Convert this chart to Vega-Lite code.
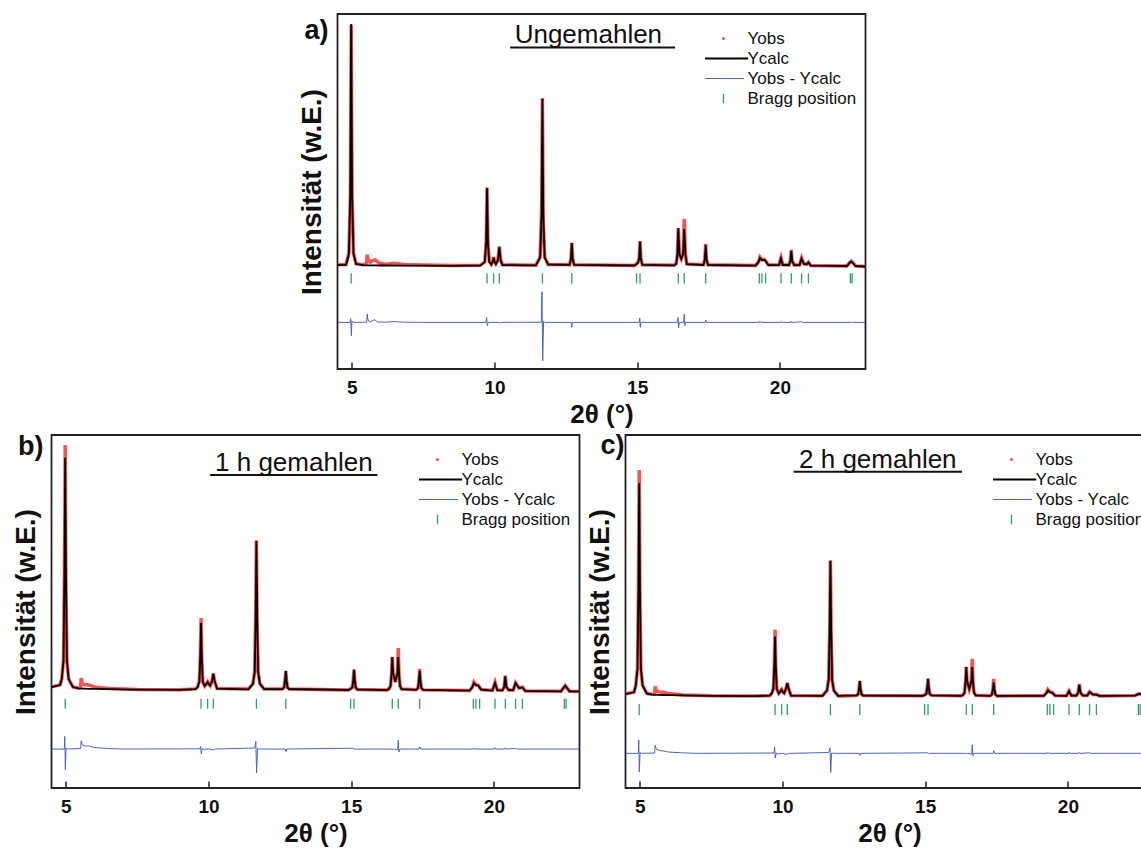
{
"$schema": "https://vega.github.io/schema/vega-lite/v6.json",
"padding": {"left": 11.5, "top": 13, "right": 0, "bottom": 0},
"background": "white",
"datasets": {
"one": [{"k": 1}],
"A": [
{"x":4.5,"c":1040,"o":1042},{"x":4.8,"c":1042,"o":1045},{"x":4.9,"c":1150,"o":1160},{"x":4.95,"c":1756,"o":1740},{"x":4.98,"c":3450,"o":3440},{"x":5.01,"c":1756,"o":1770},{"x":5.06,"c":1150,"o":1160},{"x":5.15,"c":1050,"o":1052},{"x":5.4,"c":1038,"o":1040},{"x":5.52,"c":1037,"o":1060},{"x":5.54,"c":1037,"o":1143},{"x":5.57,"c":1037,"o":1095},{"x":5.65,"c":1036,"o":1070},{"x":5.75,"c":1036,"o":1085},{"x":5.82,"c":1036,"o":1090},{"x":5.95,"c":1035,"o":1060},{"x":6.2,"c":1035,"o":1048},{"x":6.5,"c":1034,"o":1058},{"x":6.8,"c":1034,"o":1045},{"x":7.5,"c":1033,"o":1040},{"x":8.5,"c":1032,"o":1034},{"x":9.5,"c":1035,"o":1037},
{"x":9.66,"c":1069,"o":1072},{"x":9.71,"c":1264,"o":1280},{"x":9.74,"c":1810,"o":1815},{"x":9.77,"c":1264,"o":1255},{"x":9.82,"c":1069,"o":1075},{"x":9.89,"c":1045,"o":1047},{"x":9.94,"c":1075,"o":1080},{"x":9.97,"c":1116,"o":1120},{"x":10.0,"c":1075,"o":1078},{"x":10.05,"c":1050,"o":1052},{"x":10.12,"c":1085,"o":1090},{"x":10.17,"c":1216,"o":1225},{"x":10.22,"c":1085,"o":1085},{"x":10.28,"c":1040,"o":1042},
{"x":11.45,"c":1036,"o":1038},{"x":11.6,"c":1114,"o":1120},{"x":11.65,"c":1531,"o":1600},{"x":11.68,"c":2700,"o":2710},{"x":11.71,"c":1531,"o":1480},{"x":11.76,"c":1114,"o":1118},{"x":11.88,"c":1045,"o":1046},
{"x":12.63,"c":1042,"o":1043},{"x":12.68,"c":1099,"o":1100},{"x":12.71,"c":1260,"o":1262},{"x":12.74,"c":1099,"o":1105},{"x":12.79,"c":1042,"o":1043},
{"x":14.9,"c":1035,"o":1036},{"x":14.98,"c":1048,"o":1052},{"x":15.03,"c":1062,"o":1068},{"x":15.07,"c":1103,"o":1110},{"x":15.1,"c":1273,"o":1278},{"x":15.13,"c":1103,"o":1105},{"x":15.18,"c":1042,"o":1043},
{"x":16.3,"c":1036,"o":1038},{"x":16.37,"c":1052,"o":1055},{"x":16.41,"c":1143,"o":1150},{"x":16.44,"c":1406,"o":1410},{"x":16.48,"c":1150,"o":1150},{"x":16.545,"c":1100,"o":1102},{"x":16.61,"c":1150,"o":1160},{"x":16.65,"c":1400,"o":1500},{"x":16.69,"c":1143,"o":1150},{"x":16.74,"c":1049,"o":1050},
{"x":17.32,"c":1040,"o":1042},{"x":17.37,"c":1093,"o":1095},{"x":17.4,"c":1240,"o":1250},{"x":17.43,"c":1093,"o":1095},{"x":17.48,"c":1040,"o":1042},
{"x":19.15,"c":1034,"o":1036},{"x":19.25,"c":1068,"o":1072},{"x":19.3,"c":1110,"o":1118},{"x":19.36,"c":1090,"o":1092},{"x":19.45,"c":1093,"o":1096},{"x":19.5,"c":1080,"o":1082},{"x":19.6,"c":1038,"o":1040},
{"x":19.97,"c":1040,"o":1042},{"x":20.04,"c":1106,"o":1112},{"x":20.1,"c":1040,"o":1042},{"x":20.32,"c":1040,"o":1041},{"x":20.37,"c":1080,"o":1085},{"x":20.4,"c":1183,"o":1190},{"x":20.43,"c":1080,"o":1083},{"x":20.5,"c":1038,"o":1040},
{"x":20.69,"c":1040,"o":1041},{"x":20.76,"c":1106,"o":1110},{"x":20.84,"c":1050,"o":1052},{"x":20.93,"c":1045,"o":1046},{"x":21.0,"c":1066,"o":1068},{"x":21.08,"c":1034,"o":1035},
{"x":22.35,"c":1030,"o":1031},{"x":22.44,"c":1060,"o":1062},{"x":22.5,"c":1076,"o":1078},{"x":22.56,"c":1060,"o":1062},{"x":22.65,"c":1030,"o":1031},{"x":23.0,"c":1025,"o":1026}
],
"AD": [
{"x":4.5,"d":466},{"x":4.94,"d":466},{"x":4.965,"d":503},{"x":4.985,"d":333},{"x":5.005,"d":480},{"x":5.05,"d":466},{"x":5.52,"d":468},{"x":5.54,"d":550},{"x":5.57,"d":485},{"x":5.65,"d":472},{"x":5.8,"d":493},{"x":5.9,"d":470},{"x":6.2,"d":468},{"x":6.5,"d":474},{"x":6.8,"d":468},{"x":7.5,"d":466},{"x":9.7,"d":466},{"x":9.725,"d":516},{"x":9.75,"d":433},{"x":9.78,"d":466},{"x":10.15,"d":466},{"x":10.18,"d":458},{"x":10.22,"d":466},{"x":11.64,"d":468},{"x":11.665,"d":773},{"x":11.69,"d":83},{"x":11.72,"d":478},{"x":11.76,"d":466},{"x":12.69,"d":466},{"x":12.71,"d":416},{"x":12.73,"d":466},{"x":15.07,"d":466},{"x":15.09,"d":510},{"x":15.11,"d":416},{"x":15.13,"d":466},{"x":16.41,"d":466},{"x":16.43,"d":516},{"x":16.45,"d":410},{"x":16.48,"d":466},{"x":16.63,"d":466},{"x":16.65,"d":550},{"x":16.67,"d":433},{"x":16.7,"d":466},{"x":17.38,"d":466},{"x":17.4,"d":490},{"x":17.42,"d":466},{"x":19.28,"d":466},{"x":19.3,"d":478},{"x":19.33,"d":466},{"x":20.02,"d":466},{"x":20.04,"d":476},{"x":20.06,"d":466},{"x":20.38,"d":466},{"x":20.4,"d":478},{"x":20.42,"d":466},{"x":20.76,"d":472},{"x":20.8,"d":466},{"x":22.48,"d":466},{"x":22.5,"d":472},{"x":22.52,"d":466},{"x":23.0,"d":466}
],
"B": [
{"x":4.5,"c":1010,"o":1012},{"x":4.8,"c":1030,"o":1032},{"x":4.86,"c":1090,"o":1095},{"x":4.92,"c":1274,"o":1280},{"x":4.955,"c":2150,"o":2200},{"x":4.98,"c":3307,"o":3433},{"x":5.005,"c":2150,"o":2120},{"x":5.04,"c":1274,"o":1265},{"x":5.1,"c":1090,"o":1092},{"x":5.25,"c":1010,"o":1012},{"x":5.45,"c":997,"o":1000},{"x":5.52,"c":995,"o":1010},{"x":5.54,"c":995,"o":1100},{"x":5.57,"c":995,"o":1045},{"x":5.65,"c":994,"o":1035},{"x":5.8,"c":993,"o":1032},{"x":6.0,"c":992,"o":1012},{"x":6.5,"c":990,"o":995},{"x":7.5,"c":985,"o":986},{"x":9.0,"c":983,"o":984},{"x":9.55,"c":990,"o":992},
{"x":9.62,"c":1010,"o":1012},{"x":9.68,"c":1063,"o":1068},{"x":9.715,"c":1316,"o":1330},{"x":9.74,"c":1650,"o":1700},{"x":9.765,"c":1316,"o":1310},{"x":9.8,"c":1063,"o":1060},{"x":9.87,"c":1020,"o":1021},{"x":9.93,"c":1040,"o":1045},{"x":9.97,"c":1060,"o":1063},{"x":10.01,"c":1040,"o":1040},{"x":10.06,"c":1025,"o":1024},{"x":10.12,"c":1065,"o":1066},{"x":10.17,"c":1143,"o":1147},{"x":10.22,"c":1065,"o":1064},{"x":10.3,"c":995,"o":996},
{"x":11.4,"c":988,"o":990},{"x":11.56,"c":1043,"o":1046},{"x":11.62,"c":1162,"o":1175},{"x":11.655,"c":1728,"o":1760},{"x":11.68,"c":2473,"o":2480},{"x":11.705,"c":1728,"o":1700},{"x":11.74,"c":1162,"o":1160},{"x":11.8,"c":1043,"o":1045},{"x":11.95,"c":990,"o":991},
{"x":12.59,"c":991,"o":992},{"x":12.65,"c":1006,"o":1007},{"x":12.685,"c":1078,"o":1080},{"x":12.71,"c":1173,"o":1170},{"x":12.735,"c":1078,"o":1076},{"x":12.77,"c":1006,"o":1005},{"x":12.83,"c":991,"o":991},
{"x":14.9,"c":981,"o":982},{"x":14.98,"c":992,"o":994},{"x":15.04,"c":1005,"o":1010},{"x":15.075,"c":1080,"o":1085},{"x":15.1,"c":1183,"o":1186},{"x":15.125,"c":1080,"o":1080},{"x":15.16,"c":1003,"o":1004},{"x":15.22,"c":986,"o":986},
{"x":16.25,"c":980,"o":981},{"x":16.32,"c":990,"o":992},{"x":16.38,"c":1020,"o":1022},{"x":16.415,"c":1140,"o":1143},{"x":16.44,"c":1310,"o":1312},{"x":16.47,"c":1150,"o":1150},{"x":16.545,"c":1060,"o":1062},{"x":16.62,"c":1150,"o":1160},{"x":16.65,"c":1310,"o":1400},{"x":16.675,"c":1140,"o":1145},{"x":16.71,"c":1020,"o":1022},{"x":16.77,"c":990,"o":991},
{"x":17.28,"c":982,"o":983},{"x":17.34,"c":1000,"o":1002},{"x":17.375,"c":1075,"o":1080},{"x":17.4,"c":1173,"o":1193},{"x":17.425,"c":1075,"o":1078},{"x":17.46,"c":1000,"o":1001},{"x":17.52,"c":982,"o":982},
{"x":19.15,"c":975,"o":976},{"x":19.25,"c":1010,"o":1014},{"x":19.3,"c":1050,"o":1060},{"x":19.37,"c":1030,"o":1032},{"x":19.45,"c":1027,"o":1028},{"x":19.55,"c":985,"o":986},
{"x":19.95,"c":975,"o":976},{"x":20.04,"c":1050,"o":1058},{"x":20.12,"c":980,"o":981},{"x":20.3,"c":978,"o":979},{"x":20.36,"c":1010,"o":1012},{"x":20.4,"c":1117,"o":1125},{"x":20.44,"c":1010,"o":1010},{"x":20.52,"c":980,"o":980},
{"x":20.68,"c":980,"o":981},{"x":20.76,"c":1050,"o":1053},{"x":20.88,"c":1000,"o":1001},{"x":21.0,"c":1007,"o":1008},{"x":21.1,"c":972,"o":972},
{"x":22.35,"c":968,"o":969},{"x":22.5,"c":1023,"o":1025},{"x":22.65,"c":968,"o":968},{"x":23.0,"c":967,"o":967}
],
"BD": [
{"x":4.5,"d":390},{"x":4.95,"d":390},{"x":4.965,"d":517},{"x":4.985,"d":183},{"x":5.01,"d":400},{"x":5.05,"d":390},{"x":5.52,"d":395},{"x":5.54,"d":473},{"x":5.58,"d":430},{"x":5.7,"d":420},{"x":5.8,"d":422},{"x":6.0,"d":405},{"x":6.5,"d":395},{"x":7.0,"d":390},{"x":9.7,"d":392},{"x":9.725,"d":417},{"x":9.75,"d":340},{"x":9.78,"d":395},{"x":9.85,"d":385},{"x":10.0,"d":392},{"x":10.17,"d":380},{"x":10.25,"d":390},{"x":11.62,"d":400},{"x":11.66,"d":467},{"x":11.685,"d":150},{"x":11.72,"d":395},{"x":11.8,"d":390},{"x":12.69,"d":390},{"x":12.71,"d":363},{"x":12.74,"d":390},{"x":15.09,"d":398},{"x":15.12,"d":385},{"x":15.15,"d":390},{"x":16.42,"d":390},{"x":16.44,"d":385},{"x":16.47,"d":390},{"x":16.63,"d":383},{"x":16.65,"d":477},{"x":16.67,"d":360},{"x":16.7,"d":390},{"x":17.38,"d":390},{"x":17.4,"d":413},{"x":17.43,"d":390},{"x":19.28,"d":390},{"x":19.3,"d":400},{"x":19.33,"d":390},{"x":20.02,"d":390},{"x":20.04,"d":402},{"x":20.06,"d":390},{"x":20.38,"d":390},{"x":20.4,"d":402},{"x":20.42,"d":390},{"x":20.76,"d":396},{"x":20.8,"d":390},{"x":23.0,"d":390}
],
"C": [
{"x":4.5,"c":940,"o":942},{"x":4.8,"c":958,"o":960},{"x":4.86,"c":1024,"o":1030},{"x":4.92,"c":1193,"o":1200},{"x":4.955,"c":1995,"o":2050},{"x":4.98,"c":3050,"o":3183},{"x":5.005,"c":1995,"o":1960},{"x":5.04,"c":1193,"o":1185},{"x":5.1,"c":1024,"o":1026},{"x":5.25,"c":945,"o":946},{"x":5.45,"c":935,"o":937},{"x":5.52,"c":933,"o":945},{"x":5.54,"c":933,"o":1017},{"x":5.57,"c":933,"o":975},{"x":5.65,"c":932,"o":962},{"x":5.8,"c":931,"o":958},{"x":6.0,"c":930,"o":945},{"x":6.5,"c":927,"o":932},{"x":7.5,"c":922,"o":923},{"x":9.0,"c":920,"o":921},{"x":9.55,"c":925,"o":926},
{"x":9.62,"c":944,"o":946},{"x":9.68,"c":992,"o":995},{"x":9.715,"c":1218,"o":1230},{"x":9.74,"c":1517,"o":1583},{"x":9.765,"c":1218,"o":1210},{"x":9.8,"c":992,"o":990},{"x":9.87,"c":945,"o":946},{"x":9.93,"c":965,"o":968},{"x":9.97,"c":983,"o":985},{"x":10.01,"c":962,"o":962},{"x":10.06,"c":950,"o":950},{"x":10.12,"c":990,"o":992},{"x":10.17,"c":1050,"o":1052},{"x":10.22,"c":990,"o":988},{"x":10.3,"c":925,"o":926},
{"x":11.4,"c":922,"o":923},{"x":11.56,"c":974,"o":978},{"x":11.62,"c":1082,"o":1095},{"x":11.655,"c":1597,"o":1620},{"x":11.68,"c":2273,"o":2280},{"x":11.705,"c":1597,"o":1570},{"x":11.74,"c":1082,"o":1080},{"x":11.8,"c":974,"o":975},{"x":11.95,"c":922,"o":922},
{"x":12.59,"c":926,"o":926},{"x":12.65,"c":938,"o":939},{"x":12.685,"c":996,"o":998},{"x":12.71,"c":1073,"o":1070},{"x":12.735,"c":996,"o":994},{"x":12.77,"c":938,"o":938},{"x":12.83,"c":926,"o":926},
{"x":14.9,"c":922,"o":923},{"x":14.98,"c":930,"o":932},{"x":15.04,"c":941,"o":946},{"x":15.075,"c":1006,"o":1010},{"x":15.1,"c":1093,"o":1095},{"x":15.125,"c":1006,"o":1005},{"x":15.16,"c":941,"o":942},{"x":15.22,"c":927,"o":927},
{"x":16.25,"c":922,"o":923},{"x":16.32,"c":928,"o":930},{"x":16.38,"c":955,"o":957},{"x":16.415,"c":1065,"o":1068},{"x":16.44,"c":1210,"o":1212},{"x":16.47,"c":1070,"o":1070},{"x":16.545,"c":990,"o":992},{"x":16.62,"c":1070,"o":1080},{"x":16.65,"c":1210,"o":1293},{"x":16.675,"c":1065,"o":1070},{"x":16.71,"c":955,"o":957},{"x":16.77,"c":928,"o":929},
{"x":17.28,"c":922,"o":923},{"x":17.34,"c":936,"o":938},{"x":17.375,"c":990,"o":995},{"x":17.4,"c":1057,"o":1093},{"x":17.425,"c":990,"o":992},{"x":17.46,"c":936,"o":937},{"x":17.52,"c":922,"o":922},
{"x":19.15,"c":922,"o":923},{"x":19.25,"c":950,"o":953},{"x":19.3,"c":977,"o":985},{"x":19.37,"c":960,"o":962},{"x":19.45,"c":955,"o":956},{"x":19.55,"c":925,"o":926},
{"x":19.95,"c":922,"o":923},{"x":20.04,"c":967,"o":972},{"x":20.12,"c":925,"o":926},{"x":20.3,"c":924,"o":925},{"x":20.36,"c":955,"o":957},{"x":20.4,"c":1033,"o":1040},{"x":20.44,"c":955,"o":955},{"x":20.52,"c":926,"o":926},
{"x":20.68,"c":925,"o":926},{"x":20.76,"c":960,"o":963},{"x":20.88,"c":935,"o":936},{"x":21.0,"c":935,"o":936},{"x":21.1,"c":922,"o":922},
{"x":22.35,"c":925,"o":926},{"x":22.5,"c":943,"o":945},{"x":22.65,"c":927,"o":927},{"x":23.0,"c":930,"o":930}
],
"CD": [
{"x":4.5,"d":347},{"x":4.95,"d":347},{"x":4.965,"d":480},{"x":4.985,"d":160},{"x":5.01,"d":355},{"x":5.05,"d":347},{"x":5.52,"d":350},{"x":5.54,"d":427},{"x":5.58,"d":390},{"x":5.7,"d":375},{"x":5.8,"d":372},{"x":6.0,"d":360},{"x":6.5,"d":352},{"x":7.0,"d":347},{"x":9.7,"d":350},{"x":9.725,"d":410},{"x":9.75,"d":300},{"x":9.78,"d":350},{"x":9.85,"d":340},{"x":10.0,"d":347},{"x":10.1,"d":340},{"x":10.17,"d":338},{"x":10.25,"d":347},{"x":11.62,"d":355},{"x":11.665,"d":400},{"x":11.69,"d":157},{"x":11.72,"d":350},{"x":11.8,"d":347},{"x":12.69,"d":347},{"x":12.71,"d":327},{"x":12.74,"d":347},{"x":15.08,"d":352},{"x":15.12,"d":342},{"x":15.15,"d":347},{"x":16.42,"d":347},{"x":16.44,"d":342},{"x":16.47,"d":347},{"x":16.63,"d":340},{"x":16.65,"d":433},{"x":16.67,"d":323},{"x":16.7,"d":347},{"x":17.38,"d":347},{"x":17.4,"d":373},{"x":17.43,"d":347},{"x":19.28,"d":347},{"x":19.3,"d":357},{"x":19.33,"d":347},{"x":20.02,"d":347},{"x":20.04,"d":357},{"x":20.06,"d":347},{"x":20.38,"d":347},{"x":20.4,"d":357},{"x":20.42,"d":347},{"x":20.76,"d":352},{"x":20.8,"d":347},{"x":23.0,"d":347}
],
"bragg": [{"x":4.98},{"x":9.74},{"x":9.97},{"x":10.17},{"x":11.68},{"x":12.71},{"x":14.98},{"x":15.1},{"x":16.44},{"x":16.65},{"x":17.4},{"x":19.28},{"x":19.37},{"x":19.5},{"x":20.04},{"x":20.4},{"x":20.76},{"x":21.0},{"x":22.47},{"x":22.53}],
"leg": [{"s":"Yobs"},{"s":"Ycalc"},{"s":"Yobs - Ycalc"},{"s":"Bragg position"}]
},
"vconcat": [
{"hconcat": [
{"width": 246, "height": 10, "data": {"name": "one"}, "mark": {"type": "point", "opacity": 0}, "view": {"stroke": null}},
{"width": 528, "height": 355,
"layer": [
{"data": {"name": "A"}, "mark": {"type": "line", "color": "#ff3030", "strokeWidth": 3.5, "opacity": 0.85, "clip": true}, "encoding": {"x": {"field": "x", "type": "quantitative", "title": "2θ (°)", "scale": {"domain": [4.5, 23], "nice": false, "zero": false}, "axis": {"values": [5, 10, 15, 20], "format": "d"}}, "y": {"field": "o", "type": "quantitative", "title": "Intensität (w.E.)", "scale": {"domain": [0, 3550], "nice": false, "zero": false}}}},
{"data": {"name": "A"}, "mark": {"type": "line", "color": "#000000", "strokeWidth": 1.8, "clip": true}, "encoding": {"x": {"field": "x", "type": "quantitative", "title": "2θ (°)", "scale": {"domain": [4.5, 23], "nice": false, "zero": false}}, "y": {"field": "c", "type": "quantitative", "title": "Intensität (w.E.)", "scale": {"domain": [0, 3550], "nice": false, "zero": false}}}},
{"data": {"name": "AD"}, "mark": {"type": "line", "color": "#4f63b8", "strokeWidth": 1, "clip": true}, "encoding": {"x": {"field": "x", "type": "quantitative", "title": "2θ (°)", "scale": {"domain": [4.5, 23], "nice": false, "zero": false}}, "y": {"field": "d", "type": "quantitative", "title": "Intensität (w.E.)", "scale": {"domain": [0, 3550], "nice": false, "zero": false}}}},
{"data": {"name": "bragg"}, "mark": {"type": "rule", "color": "#2f9e6e", "strokeWidth": 1.3}, "encoding": {"x": {"field": "x", "type": "quantitative", "title": "2θ (°)", "scale": {"domain": [4.5, 23], "nice": false, "zero": false}}, "y": {"datum": 957, "type": "quantitative", "title": "Intensität (w.E.)", "scale": {"domain": [0, 3550], "nice": false, "zero": false}}, "y2": {"datum": 856}}},
{"data": {"name": "leg"}, "mark": {"type": "point", "filled": true, "clip": true, "opacity": 1},
 "encoding": {"x": {"datum": 100, "type": "quantitative", "title": "2θ (°)"}, "y": {"datum": 0, "type": "quantitative", "title": "Intensität (w.E.)"},
 "color": {"field": "s", "type": "nominal", "scale": {"domain": ["Yobs", "Ycalc", "Yobs - Ycalc", "Bragg position"], "range": ["#ff5050", "#000000", "#5067c0", "#2f9e6e"]}, "legend": {"orient": "none", "legendX": 376.5, "legendY": 15, "title": null, "symbolSize": 361, "labelFontSize": 17, "labelColor": "#111111", "labelOffset": 14.5, "rowPadding": 2, "padding": 0, "symbolStrokeWidth": 0}},
 "shape": {"field": "s", "type": "nominal", "scale": {"domain": ["Yobs", "Ycalc", "Yobs - Ycalc", "Bragg position"], "range": ["M0.16,0A0.16,0.16,0,1,1,-0.16,0A0.16,0.16,0,1,1,0.16,0Z", "M-1.95,-0.11H2.6V0.11H-1.95Z", "M-1.95,-0.055H2.15V0.055H-1.95Z", "M-0.07,-0.5H0.07V0.5H-0.07Z"]}, "legend": {"orient": "none", "legendX": 376.5, "legendY": 15, "title": null, "symbolSize": 361, "labelFontSize": 17, "labelColor": "#111111", "labelOffset": 14.5, "rowPadding": 2, "padding": 0, "symbolStrokeWidth": 0}}}},
{"data": {"name": "one"}, "mark": {"type": "text", "fontSize": 26, "align": "center", "baseline": "alphabetic", "color": "#111111"}, "encoding": {"x": {"datum": 13.29, "type": "quantitative", "title": "2θ (°)"}, "y": {"datum": 3256, "type": "quantitative", "title": "Intensität (w.E.)"}, "text": {"value": "Ungemahlen"}}},
{"data": {"name": "one"}, "mark": {"type": "rule", "strokeWidth": 2, "color": "#111111"}, "encoding": {"x": {"datum": 10.55, "type": "quantitative", "title": "2θ (°)"}, "x2": {"datum": 16.33}, "y": {"datum": 3216, "type": "quantitative", "title": "Intensität (w.E.)"}}},
{"data": {"name": "one"}, "mark": {"type": "text", "fontSize": 27, "fontWeight": "bold", "align": "left", "baseline": "alphabetic", "color": "#111111"}, "encoding": {"x": {"datum": 3.34, "type": "quantitative", "title": "2θ (°)"}, "y": {"datum": 3303, "type": "quantitative", "title": "Intensität (w.E.)"}, "text": {"value": "a)"}}}
]}
], "spacing": 0, "resolve": {"scale": {"color": "independent", "shape": "independent"}}},
{"hconcat": [
{"width": 528, "height": 353,
"layer": [
{"data": {"name": "B"}, "mark": {"type": "line", "color": "#ff3030", "strokeWidth": 3.5, "opacity": 0.85, "clip": true}, "encoding": {"x": {"field": "x", "type": "quantitative", "title": "2θ (°)", "scale": {"domain": [4.5, 23], "nice": false, "zero": false}, "axis": {"values": [5, 10, 15, 20], "format": "d"}}, "y": {"field": "o", "type": "quantitative", "title": "Intensität (w.E.)", "scale": {"domain": [0, 3533], "nice": false, "zero": false}}}},
{"data": {"name": "B"}, "mark": {"type": "line", "color": "#000000", "strokeWidth": 1.8, "clip": true}, "encoding": {"x": {"field": "x", "type": "quantitative", "title": "2θ (°)", "scale": {"domain": [4.5, 23], "nice": false, "zero": false}}, "y": {"field": "c", "type": "quantitative", "title": "Intensität (w.E.)", "scale": {"domain": [0, 3533], "nice": false, "zero": false}}}},
{"data": {"name": "BD"}, "mark": {"type": "line", "color": "#4f63b8", "strokeWidth": 1, "clip": true}, "encoding": {"x": {"field": "x", "type": "quantitative", "title": "2θ (°)", "scale": {"domain": [4.5, 23], "nice": false, "zero": false}}, "y": {"field": "d", "type": "quantitative", "title": "Intensität (w.E.)", "scale": {"domain": [0, 3533], "nice": false, "zero": false}}}},
{"data": {"name": "bragg"}, "mark": {"type": "rule", "color": "#2f9e6e", "strokeWidth": 1.3}, "encoding": {"x": {"field": "x", "type": "quantitative", "title": "2θ (°)", "scale": {"domain": [4.5, 23], "nice": false, "zero": false}}, "y": {"datum": 893, "type": "quantitative", "title": "Intensität (w.E.)", "scale": {"domain": [0, 3533], "nice": false, "zero": false}}, "y2": {"datum": 793}}},
{"data": {"name": "leg"}, "mark": {"type": "point", "filled": true, "clip": true, "opacity": 1},
 "encoding": {"x": {"datum": 100, "type": "quantitative", "title": "2θ (°)"}, "y": {"datum": 0, "type": "quantitative", "title": "Intensität (w.E.)"},
 "color": {"field": "s", "type": "nominal", "scale": {"domain": ["Yobs", "Ycalc", "Yobs - Ycalc", "Bragg position"], "range": ["#ff5050", "#000000", "#5067c0", "#2f9e6e"]}, "legend": {"orient": "none", "legendX": 376.5, "legendY": 15, "title": null, "symbolSize": 361, "labelFontSize": 17, "labelColor": "#111111", "labelOffset": 14.5, "rowPadding": 2, "padding": 0, "symbolStrokeWidth": 0}},
 "shape": {"field": "s", "type": "nominal", "scale": {"domain": ["Yobs", "Ycalc", "Yobs - Ycalc", "Bragg position"], "range": ["M0.16,0A0.16,0.16,0,1,1,-0.16,0A0.16,0.16,0,1,1,0.16,0Z", "M-1.95,-0.11H2.6V0.11H-1.95Z", "M-1.95,-0.055H2.15V0.055H-1.95Z", "M-0.07,-0.5H0.07V0.5H-0.07Z"]}, "legend": {"orient": "none", "legendX": 376.5, "legendY": 15, "title": null, "symbolSize": 361, "labelFontSize": 17, "labelColor": "#111111", "labelOffset": 14.5, "rowPadding": 2, "padding": 0, "symbolStrokeWidth": 0}}}},
{"data": {"name": "one"}, "mark": {"type": "text", "fontSize": 26, "align": "center", "baseline": "alphabetic", "color": "#111111"}, "encoding": {"x": {"datum": 12.99, "type": "quantitative", "title": "2θ (°)"}, "y": {"datum": 3173, "type": "quantitative", "title": "Intensität (w.E.)"}, "text": {"value": "1 h gemahlen"}}},
{"data": {"name": "one"}, "mark": {"type": "rule", "strokeWidth": 2, "color": "#111111"}, "encoding": {"x": {"datum": 10.06, "type": "quantitative", "title": "2θ (°)"}, "x2": {"datum": 15.92}, "y": {"datum": 3133, "type": "quantitative", "title": "Intensität (w.E.)"}}},
{"data": {"name": "one"}, "mark": {"type": "text", "fontSize": 27, "fontWeight": "bold", "align": "left", "baseline": "alphabetic", "color": "#111111"}, "encoding": {"x": {"datum": 3.33, "type": "quantitative", "title": "2θ (°)"}, "y": {"datum": 3330, "type": "quantitative", "title": "Intensität (w.E.)"}, "text": {"value": "b)"}}}
]},
{"width": 528, "height": 353,
"layer": [
{"data": {"name": "C"}, "mark": {"type": "line", "color": "#ff3030", "strokeWidth": 3.5, "opacity": 0.85, "clip": true}, "encoding": {"x": {"field": "x", "type": "quantitative", "title": "2θ (°)", "scale": {"domain": [4.5, 23], "nice": false, "zero": false}, "axis": {"values": [5, 10, 15, 20], "format": "d"}}, "y": {"field": "o", "type": "quantitative", "title": "Intensität (w.E.)", "scale": {"domain": [0, 3533], "nice": false, "zero": false}}}},
{"data": {"name": "C"}, "mark": {"type": "line", "color": "#000000", "strokeWidth": 1.8, "clip": true}, "encoding": {"x": {"field": "x", "type": "quantitative", "title": "2θ (°)", "scale": {"domain": [4.5, 23], "nice": false, "zero": false}}, "y": {"field": "c", "type": "quantitative", "title": "Intensität (w.E.)", "scale": {"domain": [0, 3533], "nice": false, "zero": false}}}},
{"data": {"name": "CD"}, "mark": {"type": "line", "color": "#4f63b8", "strokeWidth": 1, "clip": true}, "encoding": {"x": {"field": "x", "type": "quantitative", "title": "2θ (°)", "scale": {"domain": [4.5, 23], "nice": false, "zero": false}}, "y": {"field": "d", "type": "quantitative", "title": "Intensität (w.E.)", "scale": {"domain": [0, 3533], "nice": false, "zero": false}}}},
{"data": {"name": "bragg"}, "mark": {"type": "rule", "color": "#2f9e6e", "strokeWidth": 1.3}, "encoding": {"x": {"field": "x", "type": "quantitative", "title": "2θ (°)", "scale": {"domain": [4.5, 23], "nice": false, "zero": false}}, "y": {"datum": 840, "type": "quantitative", "title": "Intensität (w.E.)", "scale": {"domain": [0, 3533], "nice": false, "zero": false}}, "y2": {"datum": 730}}},
{"data": {"name": "leg"}, "mark": {"type": "point", "filled": true, "clip": true, "opacity": 1},
 "encoding": {"x": {"datum": 100, "type": "quantitative", "title": "2θ (°)"}, "y": {"datum": 0, "type": "quantitative", "title": "Intensität (w.E.)"},
 "color": {"field": "s", "type": "nominal", "scale": {"domain": ["Yobs", "Ycalc", "Yobs - Ycalc", "Bragg position"], "range": ["#ff5050", "#000000", "#5067c0", "#2f9e6e"]}, "legend": {"orient": "none", "legendX": 376.5, "legendY": 15, "title": null, "symbolSize": 361, "labelFontSize": 17, "labelColor": "#111111", "labelOffset": 14.5, "rowPadding": 2, "padding": 0, "symbolStrokeWidth": 0}},
 "shape": {"field": "s", "type": "nominal", "scale": {"domain": ["Yobs", "Ycalc", "Yobs - Ycalc", "Bragg position"], "range": ["M0.16,0A0.16,0.16,0,1,1,-0.16,0A0.16,0.16,0,1,1,0.16,0Z", "M-1.95,-0.11H2.6V0.11H-1.95Z", "M-1.95,-0.055H2.15V0.055H-1.95Z", "M-0.07,-0.5H0.07V0.5H-0.07Z"]}, "legend": {"orient": "none", "legendX": 376.5, "legendY": 15, "title": null, "symbolSize": 361, "labelFontSize": 17, "labelColor": "#111111", "labelOffset": 14.5, "rowPadding": 2, "padding": 0, "symbolStrokeWidth": 0}}}},
{"data": {"name": "one"}, "mark": {"type": "text", "fontSize": 26, "align": "center", "baseline": "alphabetic", "color": "#111111"}, "encoding": {"x": {"datum": 13.34, "type": "quantitative", "title": "2θ (°)"}, "y": {"datum": 3200, "type": "quantitative", "title": "Intensität (w.E.)"}, "text": {"value": "2 h gemahlen"}}},
{"data": {"name": "one"}, "mark": {"type": "rule", "strokeWidth": 2, "color": "#111111"}, "encoding": {"x": {"datum": 10.39, "type": "quantitative", "title": "2θ (°)"}, "x2": {"datum": 16.29}, "y": {"datum": 3165, "type": "quantitative", "title": "Intensität (w.E.)"}}},
{"data": {"name": "one"}, "mark": {"type": "text", "fontSize": 27, "fontWeight": "bold", "align": "left", "baseline": "alphabetic", "color": "#111111"}, "encoding": {"x": {"datum": 3.62, "type": "quantitative", "title": "2θ (°)"}, "y": {"datum": 3340, "type": "quantitative", "title": "Intensität (w.E.)"}, "text": {"value": "c)"}}}
]}
], "spacing": 5, "resolve": {"scale": {"color": "independent", "shape": "independent"}}}
],
"spacing": 3,
"resolve": {"scale": {"color": "independent", "shape": "independent"}},
"config": {
"font": "Liberation Sans",
"view": {"stroke": "#222222", "strokeWidth": 1.8},
"axisX": {"grid": false, "domain": false, "tickColor": "#222222", "tickWidth": 1.5, "tickSize": -7, "labelPadding": 16, "labelFontSize": 19, "labelFontWeight": "bold", "labelColor": "#111111", "titleFontSize": 26, "titleFontWeight": "bold", "titleColor": "#111111", "titlePadding": 4},
"axisY": {"grid": false, "domain": false, "ticks": false, "labels": false, "titleFontSize": 28, "titleFontWeight": "bold", "titleColor": "#111111", "titlePadding": 11}
}
}
